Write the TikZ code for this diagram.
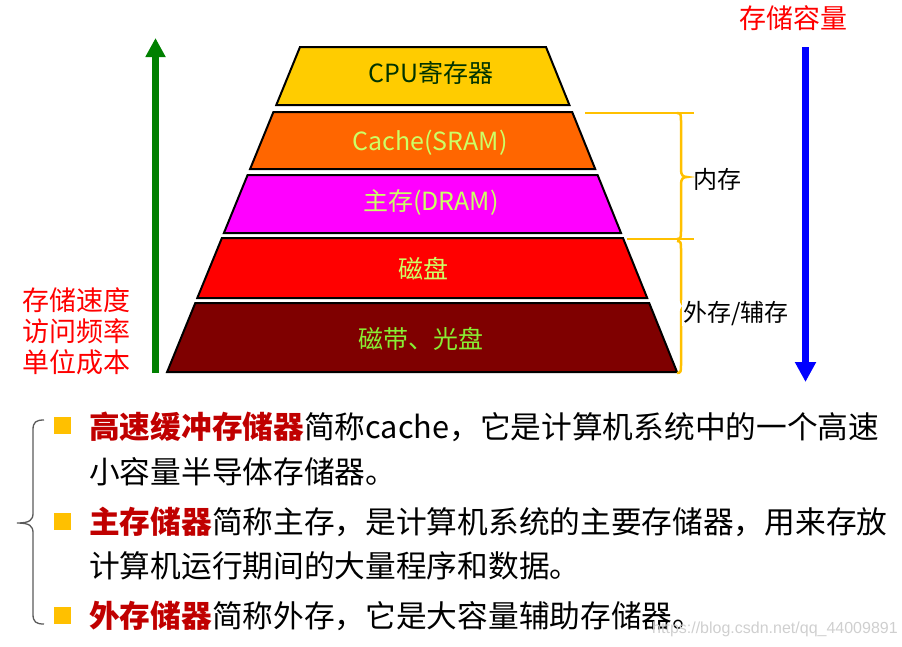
\documentclass[tikz,border=0pt]{standalone}
\usepackage{fontspec}
\setmainfont{Noto Sans CJK SC}
\newfontfamily\wmfont{Liberation Sans}
\usetikzlibrary{arrows.meta}
\definecolor{cpuY}{HTML}{FFCC00}
\definecolor{cacheO}{HTML}{FF6600}
\definecolor{dramM}{HTML}{FF00FF}
\definecolor{diskR}{HTML}{FF0000}
\definecolor{tapeB}{HTML}{7F0000}
\definecolor{ltgreen}{HTML}{CCFF66}
\definecolor{tapeG}{HTML}{88EE33}
\definecolor{cpuT}{HTML}{003300}
\definecolor{braceY}{HTML}{FFC000}
\definecolor{dred}{HTML}{C00000}
\definecolor{arrG}{HTML}{008000}
\definecolor{arrB}{HTML}{0000FF}
\definecolor{wmgray}{HTML}{CFCFCF}
\definecolor{lbrace}{HTML}{5A5A5A}
\begin{document}
\begin{tikzpicture}[x=1pt,y=-1pt,
  layer/.style={draw=black, line width=2pt, line join=miter},
  plabel/.style={anchor=base, inner sep=0, font=\fontsize{25}{25}\selectfont},
  sidelabel/.style={anchor=base west, inner sep=0, font=\fontsize{24}{24}\selectfont},
  redlabel/.style={anchor=base west, inner sep=0, text=red, font=\fontsize{27}{27}\selectfont},
  tline/.style={anchor=base west, inner sep=0, font=\fontsize{30.7}{30.7}\selectfont},
  bulletsq/.style={fill=braceY, minimum size=17pt, inner sep=0, draw=none},
  ybrace/.style={draw=braceY, line width=2.5pt},
]
\useasboundingbox (0,0) rectangle (902,646);

% pyramid layers
\path[layer, fill=cpuY]   (300,47) -- (546,47) -- (569.4,105) -- (276.3,105) -- cycle;
\path[layer, fill=cacheO] (273.4,112) -- (572.2,112) -- (595.2,169) -- (250.1,169) -- cycle;
\path[layer, fill=dramM]  (247.6,175) -- (597.6,175) -- (621,233) -- (223.9,233) -- cycle;
\path[layer, fill=diskR]  (221.9,238) -- (623,238) -- (647.2,298) -- (197.3,298) -- cycle;
\path[layer, fill=tapeB]  (195.3,303) -- (649.2,303) -- (677,372) -- (167.1,372) -- cycle;

\node[plabel, text=cpuT]    (lcpu)   at (431,82.5)  {CPU寄存器};
\node[plabel, text=ltgreen] (lcache) at (430,150.5) {Cache(SRAM)};
\node[plabel, text=ltgreen] (ldram)  at (431,210.5) {主存(DRAM)};
\node[plabel, text=ltgreen] (ldisk)  at (423,278.5) {磁盘};
\node[plabel, text=tapeG]   (ltape)  at (421,348.5) {磁带、光盘};

% arrows
\coordinate (gbot) at (155.5,373);
\coordinate (gtop) at (155.5,38);
\draw[arrG, line width=7pt, -{Triangle[length=19pt,width=19pt]}] (gbot) -- (gtop);
\coordinate (btop) at (805.5,47);
\coordinate (bbot) at (805.5,382);
\draw[arrB, line width=6.5pt, -{Triangle[length=20pt,width=20pt]}] (btop) -- (bbot);

\node[redlabel] (cap) at (739,28) {存储容量};
\node[redlabel] (sp1) at (22,310) {存储速度};
\node[redlabel] (sp2) at (22,341.5) {访问频率};
\node[redlabel] (sp3) at (22,372) {单位成本};

% yellow braces
\coordinate (h1a) at (585,113); \coordinate (h1b) at (694,113);
\coordinate (h2a) at (627,239); \coordinate (h2b) at (694,239);
\draw[ybrace] (h1a) -- (h1b);
\draw[ybrace] (h2a) -- (h2b);
\draw[ybrace] (677,113) .. controls (681,113) and (681,115) .. (681,121)
  -- (681,170) .. controls (681,175) and (683,177) .. (687,177)
  .. controls (683,177) and (681,179) .. (681,184)
  -- (681,231) .. controls (681,237) and (681,239) .. (677,239);
\draw[ybrace] (677,241) .. controls (681,241) and (681,243) .. (681,249)
  -- (681,299) .. controls (681,304) and (683,306) .. (687,306)
  .. controls (683,306) and (681,308) .. (681,313)
  -- (681,365) .. controls (681,371) and (681,373) .. (677,373);
\node[sidelabel] (inner) at (693,188.5) {内存};
\node[sidelabel, fill=white, inner sep=1pt] (outer) at (682,321) {外存/辅存};

% lower left brace
\draw[lbrace, line width=1.3pt] (44,420) .. controls (36,420) and (33,422) .. (33,430)
  -- (33,513) .. controls (33,520) and (30,523) .. (17,523)
  .. controls (30,523) and (33,526) .. (33,533)
  -- (33,614) .. controls (33,622) and (36,624) .. (44,624);

% bullets
\node[bulletsq] (b1) at (62,425) {};
\node[bulletsq] (b2) at (62,521) {};
\node[bulletsq] (b3) at (62,615.5) {};

% text lines
\node[tline] (t1) at (89,438) {\textcolor{dred}{\bfseries 高速缓冲存储器}简称cache，它是计算机系统中的一个高速};
\node[tline] (t2) at (89,483) {小容量半导体存储器。};
\node[tline] (t3) at (89,533) {\textcolor{dred}{\bfseries 主存储器}简称主存，是计算机系统的主要存储器，用来存放};
\node[tline] (t4) at (89,577) {计算机运行期间的大量程序和数据。};
\node[tline] (t5) at (89,627) {\textcolor{dred}{\bfseries 外存储器}简称外存，它是大容量辅助存储器。};

% watermark
\node[anchor=base west, inner sep=0, text=wmgray, font=\wmfont\fontsize{16}{16}\selectfont] (wm) at (652,633) {https://blog.csdn.net/qq\_44009891};
\end{tikzpicture}
\end{document}
